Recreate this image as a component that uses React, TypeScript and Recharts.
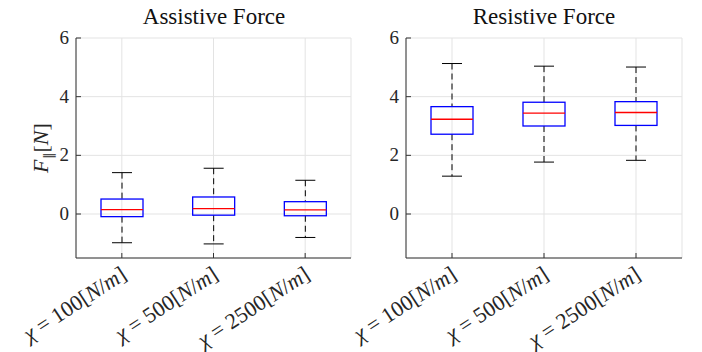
import { ComposedChart, Bar, XAxis, YAxis, CartesianGrid } from 'recharts';

// stiffness settings (N/m)
const categories = ['100', '500', '2500'];

// Assistive force box stats
const assistMin = [-0.98, -1.02, -0.8];
const assistQ1 = [-0.09, -0.04, -0.06];
const assistMed = [0.15, 0.18, 0.14];
const assistQ3 = [0.51, 0.58, 0.42];
const assistMax = [1.41, 1.56, 1.15];

// Resistive force box stats
const resistMin = [1.29, 1.77, 1.83];
const resistQ1 = [2.72, 3.0, 3.02];
const resistMed = [3.23, 3.44, 3.46];
const resistQ3 = [3.66, 3.81, 3.83];
const resistMax = [5.13, 5.04, 5.01];

const yTicks = [0, 2, 4, 6];

const FONT = "'Liberation Serif', 'Times New Roman', serif";
const AXIS = '#333333';
const GRID = '#e3e3e3';

const build = (mn: number[], q1: number[], med: number[], q3: number[], mx: number[]) =>
    categories.map((c, i) => ({ name: c, min: mn[i], q1: q1[i], med: med[i], q3: q3[i], max: mx[i] }));

const assistData = build(assistMin, assistQ1, assistMed, assistQ3, assistMax);
const resistData = build(resistMin, resistQ1, resistMed, resistQ3, resistMax);

// draws whiskers, box and median inside the range bar [min, max]
const BoxShape = (props: any) => {
    const { x, y, width, height, payload } = props;
    const top = Math.min(y, y + height);
    const h = Math.abs(height);
    const k = h / (payload.max - payload.min);
    const py = (v: number) => top + (payload.max - v) * k;
    const cx = x + width / 2;
    const cap = 10;
    return (
        <g>
            <line x1={cx} x2={cx} y1={py(payload.max)} y2={py(payload.q3)} stroke="#000" strokeDasharray="6 4" />
            <line x1={cx} x2={cx} y1={py(payload.q1)} y2={py(payload.min)} stroke="#000" strokeDasharray="6 4" />
            <line x1={cx - cap} x2={cx + cap} y1={py(payload.max)} y2={py(payload.max)} stroke="#000" />
            <line x1={cx - cap} x2={cx + cap} y1={py(payload.min)} y2={py(payload.min)} stroke="#000" />
            <rect x={x} y={py(payload.q3)} width={width} height={py(payload.q1) - py(payload.q3)} fill="none" stroke="#0000ff" strokeWidth={1.3} />
            <line x1={x} x2={x + width} y1={py(payload.med)} y2={py(payload.med)} stroke="#ff0000" strokeWidth={1.3} />
        </g>
    );
};

const CatTick = (props: any) => {
    const { x, y, payload } = props;
    return (
        <text
            transform={`translate(${x + 6},${y + 20}) rotate(-33)`}
            textAnchor="end"
            style={{ fontFamily: FONT, fontSize: 22 }}
            fill="#262626"
        >
            <tspan fontStyle="italic">χ</tspan>
            <tspan> = {payload.value}[</tspan>
            <tspan fontStyle="italic">N</tspan>
            <tspan>/</tspan>
            <tspan fontStyle="italic">m</tspan>
            <tspan>]</tspan>
        </text>
    );
};

const NumTick = (props: any) => {
    const { x, y, payload } = props;
    return (
        <text x={x} y={y} dy={6} textAnchor="end" style={{ fontFamily: FONT, fontSize: 19 }} fill="#262626">
            {payload.value}
        </text>
    );
};

const YLabel = () => (
    <text transform="translate(48,148) rotate(-90)" textAnchor="middle" style={{ fontFamily: FONT, fontSize: 22 }} fill="#262626">
        <tspan fontStyle="italic">F</tspan>
        <tspan fontSize={13} dy={5}>∥</tspan>
        <tspan dy={-5}>[</tspan>
        <tspan fontStyle="italic">N</tspan>
        <tspan>]</tspan>
    </text>
);

function BoxPanel({ data, width, leftW, right, withLabel }: { data: any[]; width: number; leftW: number; right: number; withLabel?: boolean }) {
    return (
        <ComposedChart width={width} height={352} data={data} margin={{ top: 38, right, bottom: 0, left: 0 }} barCategoryGap={0}>
            <CartesianGrid stroke={GRID} />
            <XAxis
                dataKey="name"
                height={94}
                stroke={AXIS}
                tickSize={-5}
                tickMargin={5}
                tick={<CatTick />}
                interval={0}
            />
            <XAxis xAxisId="t" dataKey="name" orientation="top" height={0} stroke={AXIS} tickSize={-5} tick={() => <g />} />
            <YAxis
                type="number"
                domain={[-1.5, 6]}
                ticks={yTicks}
                width={leftW}
                stroke={AXIS}
                tickSize={-5}
                tickMargin={12}
                tick={<NumTick />}
                allowDataOverflow
                label={withLabel ? <YLabel /> : undefined}
            />
            <YAxis
                yAxisId="r"
                orientation="right"
                type="number"
                domain={[-1.5, 6]}
                ticks={yTicks}
                width={0}
                stroke={AXIS}
                tickSize={-5}
                tick={() => <g />}
                allowDataOverflow
            />
            <Bar dataKey={(d: any) => [d.min, d.max]} barSize={42} shape={<BoxShape />} isAnimationActive={false} />
        </ComposedChart>
    );
}

const titleStyle = (left: number): React.CSSProperties => ({
    position: 'absolute',
    top: 4,
    left,
    width: 276,
    textAlign: 'center',
    fontFamily: FONT,
    fontSize: 23,
    color: '#111',
});

export default function App() {
    return (
        <div style={{ position: 'relative', width: 702, height: 352, background: '#fff', overflow: 'hidden', fontFamily: FONT }}>
            <style>{'body{margin:0}'}</style>
            <div style={{ position: 'absolute', left: 0, top: 0 }}>
                <BoxPanel data={assistData} width={360} leftW={76} right={9} withLabel />
            </div>
            <div style={{ position: 'absolute', left: 300, top: 0 }}>
                <BoxPanel data={resistData} width={402} leftW={106} right={20} />
            </div>
            <div style={titleStyle(76)}>Assistive Force</div>
            <div style={titleStyle(406)}>Resistive Force</div>
        </div>
    );
}
